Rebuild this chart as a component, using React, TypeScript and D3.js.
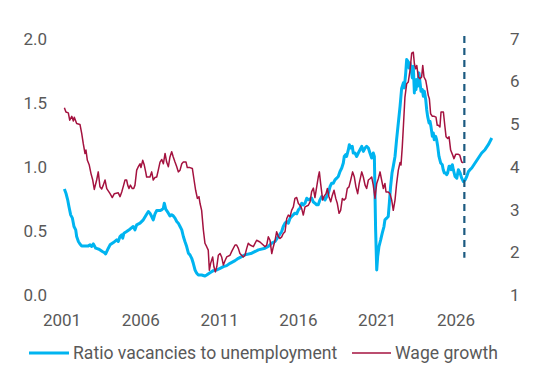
import React from "react";
import * as d3 from "d3";

// ---- Data (decimal year, value) ----
const ratioYears: number[] = [
  2001.15, 2001.25, 2001.36, 2001.44, 2001.55, 2001.66, 2001.76, 2001.87, 2001.93, 2002.04,
  2002.14, 2002.25, 2002.46, 2002.67, 2002.78, 2002.88, 2002.99, 2003.14, 2003.35, 2003.56,
  2003.69, 2003.77, 2003.94, 2004.05, 2004.26, 2004.47, 2004.57, 2004.68, 2004.79, 2004.85,
  2004.93, 2005.10, 2005.31, 2005.52, 2005.63, 2005.74, 2005.95, 2006.16, 2006.37, 2006.48,
  2006.58, 2006.69, 2006.79, 2006.90, 2007.01, 2007.22, 2007.33, 2007.43, 2007.49, 2007.58,
  2007.75, 2007.85, 2007.96, 2008.06, 2008.17, 2008.28, 2008.38, 2008.49, 2008.60, 2008.70,
  2008.80, 2008.91, 2009.02, 2009.12, 2009.23, 2009.33, 2009.44, 2009.55, 2009.65, 2009.86,
  2010.07, 2010.18, 2010.39, 2010.60, 2010.82, 2011.03, 2011.24, 2011.45, 2011.66, 2011.98,
  2012.19, 2012.61, 2013.04, 2013.46, 2013.88, 2014.09, 2014.31, 2014.52, 2014.73, 2014.94,
  2015.04, 2015.15, 2015.26, 2015.36, 2015.47, 2015.57, 2015.78, 2015.89, 2016.00, 2016.10,
  2016.21, 2016.31, 2016.42, 2016.53, 2016.63, 2016.84, 2016.95, 2017.05, 2017.16, 2017.26,
  2017.37, 2017.48, 2017.58, 2017.69, 2017.80, 2017.90, 2018.01, 2018.11, 2018.22, 2018.32,
  2018.43, 2018.53, 2018.64, 2018.75, 2018.85, 2018.91, 2019.00, 2019.06, 2019.17, 2019.23,
  2019.32, 2019.42, 2019.48, 2019.59, 2019.70, 2019.80, 2019.91, 2020.02, 2020.12, 2020.23,
  2020.33, 2020.44, 2020.54, 2020.65, 2020.75, 2020.82, 2020.90, 2020.97, 2021.03, 2021.11,
  2021.22, 2021.32, 2021.43, 2021.49, 2021.60, 2021.70, 2021.77, 2021.85, 2021.94, 2022.02,
  2022.13, 2022.23, 2022.34, 2022.45, 2022.55, 2022.66, 2022.72, 2022.81, 2022.87, 2022.94,
  2023.02, 2023.08, 2023.15, 2023.23, 2023.29, 2023.36, 2023.40, 2023.46, 2023.53, 2023.57,
  2023.65, 2023.72, 2023.78, 2023.86, 2023.93, 2023.99, 2024.08, 2024.14, 2024.20, 2024.29,
  2024.35, 2024.41, 2024.50, 2024.56, 2024.62, 2024.71, 2024.77, 2024.84, 2024.92, 2025.03,
  2025.13, 2025.19, 2025.26, 2025.35, 2025.41, 2025.47, 2025.56, 2025.62, 2025.68, 2025.77,
  2025.83, 2025.94, 2026.05, 2026.15, 2026.26, 2026.36, 2026.47, 2026.58, 2026.68, 2026.79,
  2026.89, 2027.00, 2027.21, 2027.42, 2027.63, 2027.84, 2028.05, 2028.27,
];
const ratioValues: number[] = [
  0.826, 0.794, 0.742, 0.690, 0.625, 0.599, 0.534, 0.508, 0.456, 0.417,
  0.398, 0.383, 0.383, 0.383, 0.391, 0.378, 0.398, 0.365, 0.357, 0.339,
  0.331, 0.320, 0.365, 0.391, 0.409, 0.430, 0.417, 0.456, 0.469, 0.443,
  0.482, 0.495, 0.513, 0.534, 0.508, 0.547, 0.560, 0.586, 0.630, 0.651,
  0.638, 0.612, 0.586, 0.633, 0.659, 0.659, 0.664, 0.677, 0.716, 0.669,
  0.638, 0.617, 0.625, 0.617, 0.599, 0.573, 0.560, 0.534, 0.508, 0.456,
  0.417, 0.378, 0.326, 0.313, 0.286, 0.247, 0.195, 0.169, 0.156, 0.156,
  0.148, 0.156, 0.174, 0.190, 0.195, 0.208, 0.221, 0.229, 0.247, 0.268,
  0.286, 0.313, 0.326, 0.352, 0.365, 0.378, 0.404, 0.417, 0.456, 0.495,
  0.534, 0.560, 0.573, 0.560, 0.599, 0.612, 0.638, 0.633, 0.664, 0.677,
  0.716, 0.703, 0.716, 0.755, 0.742, 0.755, 0.725, 0.716, 0.703, 0.703,
  0.742, 0.768, 0.755, 0.742, 0.768, 0.794, 0.846, 0.872, 0.872, 0.898,
  0.911, 0.924, 0.963, 0.990, 1.029, 1.080, 1.094, 1.080, 1.133, 1.172,
  1.146, 1.159, 1.107, 1.107, 1.080, 1.107, 1.133, 1.159, 1.120, 1.146,
  1.159, 1.146, 1.107, 1.068, 1.107, 1.080, 0.508, 0.195, 0.299, 0.378,
  0.430, 0.482, 0.534, 0.586, 0.599, 0.612, 0.716, 0.846, 0.951, 1.003,
  1.080, 1.211, 1.341, 1.471, 1.610, 1.654, 1.615, 1.732, 1.836, 1.823,
  1.771, 1.810, 1.758, 1.693, 1.784, 1.576, 1.680, 1.602, 1.680, 1.628,
  1.732, 1.654, 1.589, 1.602, 1.549, 1.589, 1.523, 1.445, 1.393, 1.341,
  1.354, 1.315, 1.237, 1.263, 1.211, 1.237, 1.211, 1.159, 1.080, 1.029,
  1.016, 0.977, 0.951, 0.951, 0.938, 0.951, 1.003, 1.003, 0.977, 1.016,
  0.977, 0.924, 0.911, 0.977, 0.951, 0.911, 0.885, 0.898, 0.924, 0.963,
  0.977, 0.990, 1.029, 1.068, 1.107, 1.133, 1.172, 1.224,
];

const wageYears: number[] = [
  2001.15, 2001.25, 2001.40, 2001.49, 2001.62, 2001.72, 2001.78, 2001.93, 2002.14, 2002.25,
  2002.35, 2002.46, 2002.52, 2002.61, 2002.73, 2002.84, 2002.95, 2003.05, 2003.20, 2003.30,
  2003.41, 2003.52, 2003.62, 2003.73, 2003.84, 2004.05, 2004.19, 2004.32, 2004.57, 2004.68,
  2004.79, 2004.89, 2005.00, 2005.10, 2005.17, 2005.25, 2005.34, 2005.46, 2005.55, 2005.63,
  2005.74, 2005.84, 2005.95, 2006.01, 2006.12, 2006.22, 2006.31, 2006.37, 2006.58, 2006.69,
  2006.79, 2006.90, 2007.01, 2007.11, 2007.22, 2007.33, 2007.43, 2007.54, 2007.64, 2007.75,
  2007.85, 2007.96, 2008.06, 2008.17, 2008.28, 2008.38, 2008.49, 2008.60, 2008.70, 2008.87,
  2008.95, 2009.12, 2009.27, 2009.38, 2009.48, 2009.59, 2009.69, 2009.76, 2009.86, 2009.97,
  2010.07, 2010.18, 2010.28, 2010.35, 2010.43, 2010.56, 2010.64, 2010.73, 2010.82, 2010.92,
  2011.03, 2011.13, 2011.24, 2011.34, 2011.45, 2011.55, 2011.66, 2011.77, 2011.98, 2012.08,
  2012.19, 2012.29, 2012.50, 2012.61, 2012.72, 2012.82, 2012.93, 2013.14, 2013.35, 2013.56,
  2013.77, 2013.88, 2013.99, 2014.09, 2014.20, 2014.31, 2014.41, 2014.52, 2014.62, 2014.73,
  2014.83, 2014.94, 2015.04, 2015.15, 2015.26, 2015.36, 2015.47, 2015.57, 2015.68, 2015.78,
  2015.89, 2016.00, 2016.10, 2016.21, 2016.31, 2016.42, 2016.63, 2016.74, 2016.84, 2016.95,
  2017.05, 2017.16, 2017.26, 2017.33, 2017.41, 2017.54, 2017.62, 2017.75, 2017.84, 2017.94,
  2018.05, 2018.15, 2018.26, 2018.37, 2018.47, 2018.58, 2018.68, 2018.79, 2018.89, 2019.00,
  2019.10, 2019.21, 2019.32, 2019.44, 2019.55, 2019.65, 2019.76, 2019.86, 2020.02, 2020.12,
  2020.23, 2020.33, 2020.44, 2020.54, 2020.65, 2020.75, 2020.86, 2020.97, 2021.07, 2021.18,
  2021.28, 2021.39, 2021.49, 2021.56, 2021.70, 2021.81, 2021.92, 2022.02, 2022.13, 2022.23,
  2022.34, 2022.45, 2022.51, 2022.59, 2022.66, 2022.76, 2022.87, 2022.97, 2023.08, 2023.19,
  2023.29, 2023.36, 2023.44, 2023.51, 2023.61, 2023.72, 2023.82, 2023.89, 2023.97, 2024.08,
  2024.14, 2024.24, 2024.31, 2024.39, 2024.50, 2024.62, 2024.73, 2024.81, 2024.88, 2024.98,
  2025.05, 2025.20, 2025.30, 2025.37, 2025.47, 2025.56, 2025.66, 2025.77, 2025.87, 2025.98,
  2026.15, 2026.24, 2026.36, 2026.47,
];
const wageValues: number[] = [
  5.38, 5.28, 5.26, 5.09, 5.18, 5.07, 5.16, 5.01, 4.99, 4.78,
  4.54, 4.31, 4.39, 4.15, 4.04, 3.84, 3.69, 3.47, 3.69, 3.88,
  3.53, 3.48, 3.57, 3.69, 3.49, 3.37, 3.28, 3.37, 3.39, 3.30,
  3.41, 3.54, 3.69, 3.69, 3.57, 3.49, 3.57, 3.49, 3.49, 3.57,
  3.92, 4.00, 4.07, 3.98, 4.15, 4.04, 3.88, 3.76, 3.76, 3.88,
  3.69, 3.75, 3.76, 3.92, 4.11, 4.17, 4.07, 4.31, 4.11, 4.00,
  4.23, 4.35, 4.23, 4.11, 4.00, 3.88, 3.92, 4.07, 4.11, 4.11,
  3.98, 3.98, 3.96, 3.69, 3.45, 3.26, 3.30, 3.14, 2.98, 2.52,
  2.21, 2.13, 2.05, 1.58, 1.74, 1.89, 1.66, 1.54, 1.66, 1.93,
  1.97, 1.89, 1.70, 1.80, 1.89, 1.91, 1.93, 2.02, 2.17, 2.17,
  2.09, 1.97, 1.89, 1.93, 2.09, 2.21, 2.17, 2.13, 2.28, 2.24,
  2.17, 2.13, 2.17, 2.36, 2.28, 1.97, 2.13, 2.28, 2.48, 2.36,
  2.32, 2.36, 2.44, 2.48, 2.79, 2.87, 2.83, 2.98, 3.06, 3.26,
  3.28, 3.14, 3.10, 3.02, 2.87, 3.06, 3.10, 3.18, 3.42, 3.50,
  3.28, 3.53, 3.76, 3.88, 3.61, 3.22, 3.30, 3.37, 3.49, 3.30,
  3.18, 3.33, 3.45, 3.26, 3.14, 2.91, 2.98, 3.26, 3.22, 3.26,
  3.49, 3.53, 3.69, 3.88, 3.76, 3.53, 3.37, 3.61, 3.88, 3.76,
  3.57, 3.49, 3.69, 3.72, 3.76, 3.57, 3.26, 3.61, 3.72, 3.88,
  3.69, 3.49, 3.61, 3.41, 3.41, 3.37, 3.22, 2.98, 3.22, 3.60,
  3.92, 4.10, 4.04, 4.46, 4.93, 5.63, 5.94, 5.98, 6.25, 6.66,
  6.68, 6.41, 6.29, 6.37, 6.10, 6.06, 6.10, 6.37, 6.10, 6.02,
  5.90, 5.67, 5.59, 5.24, 5.18, 5.18, 5.16, 4.97, 4.97, 4.93,
  5.28, 5.28, 4.93, 4.70, 4.66, 4.70, 4.39, 4.29, 4.19, 4.29,
  4.29, 4.27, 4.11, 4.09,
];

const xTickYears: number[] = [2001, 2006, 2011, 2016, 2021, 2026];
const leftTicks: number[] = [0, 0.5, 1, 1.5, 2];
const rightTicks: number[] = [1, 2, 3, 4, 5, 6, 7];
const forecastStart = 2026.53;
const markerSpan: number[] = [0.29, 2.02]; // left-axis units

const seriesNames: string[] = ["Ratio vacancies to unemployment", "Wage growth"];
const BLUE = "#00b4f0";
const RED = "#a4123f";
const NAVY = "#1b5a80";
const TEXT = "#595959";
const FONT = "Roboto, 'Noto Sans', sans-serif";

export default function App() {
  const W = 538;
  const H = 376;
  const x = d3.scaleLinear().domain([2001, 2026]).range([62, 456]);
  const yL = d3.scaleLinear().domain([0, 2]).range([295, 38.5]);
  const yR = d3.scaleLinear().domain([1, 7]).range([295, 38.5]);

  const ratio = ratioYears.map((t, i) => [t, ratioValues[i]] as [number, number]);
  const wage = wageYears.map((t, i) => [t, wageValues[i]] as [number, number]);

  const lineL = d3
    .line<[number, number]>()
    .x((d) => x(d[0]))
    .y((d) => yL(d[1]));
  const lineR = d3
    .line<[number, number]>()
    .x((d) => x(d[0]))
    .y((d) => yR(d[1]));

  const legendY = 353;

  return (
    <svg
      width={W}
      height={H}
      style={{ position: "fixed", left: 0, top: 0, background: "#fff" }}
      fontFamily={FONT}
    >
      <rect x={0} y={0} width={W} height={H} fill="#fff" />
      {/* left axis labels */}
      {leftTicks.map((v) => (
        <text
          key={"l" + v}
          x={47}
          y={yL(v)}
          dy="0.36em"
          textAnchor="end"
          fontSize={17}
          fill={TEXT}
        >
          {d3.format(".1f")(v)}
        </text>
      ))}
      {/* right axis labels */}
      {rightTicks.map((v) => (
        <text
          key={"r" + v}
          x={510}
          y={yR(v)}
          dy="0.36em"
          textAnchor="start"
          fontSize={17}
          fill={TEXT}
        >
          {v}
        </text>
      ))}
      {/* x axis labels */}
      {xTickYears.map((t) => (
        <text
          key={"x" + t}
          x={x(t)}
          y={320}
          dy="0.36em"
          textAnchor="middle"
          fontSize={17}
          fill={TEXT}
        >
          {t}
        </text>
      ))}

      <path
        d={lineL(ratio) || ""}
        fill="none"
        stroke={BLUE}
        strokeWidth={3}
        strokeLinejoin="round"
      />
      <path
        d={lineR(wage) || ""}
        fill="none"
        stroke={RED}
        strokeWidth={1.5}
        strokeLinejoin="round"
      />
      <line
        x1={x(forecastStart)}
        x2={x(forecastStart)}
        y1={yL(markerSpan[1])}
        y2={yL(markerSpan[0])}
        stroke={NAVY}
        strokeWidth={2.2}
        strokeDasharray="7,5"
      />

      {/* legend */}
      <line x1={29} x2={69} y1={legendY} y2={legendY} stroke={BLUE} strokeWidth={3} />
      <text x={73} y={legendY} dy="0.36em" fontSize={17.6} fill={TEXT}>
        {seriesNames[0]}
      </text>
      <line x1={352} x2={391} y1={legendY} y2={legendY} stroke={RED} strokeWidth={1.5} />
      <text x={395} y={legendY} dy="0.36em" fontSize={17.6} fill={TEXT}>
        {seriesNames[1]}
      </text>
    </svg>
  );
}
